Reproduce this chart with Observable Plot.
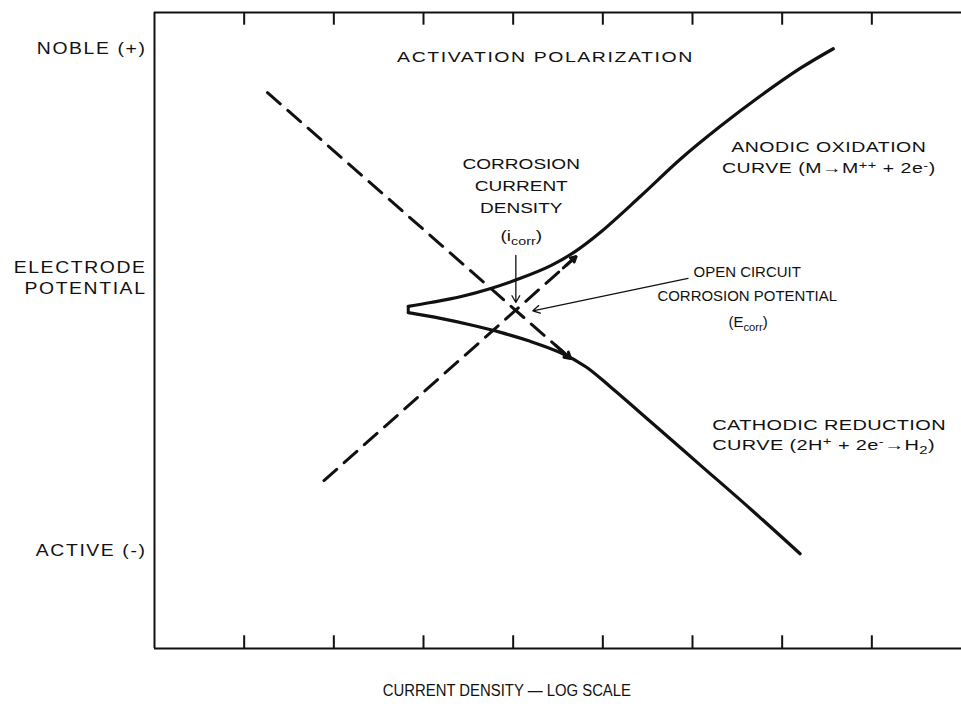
<!DOCTYPE html>
<html>
<head>
<meta charset="utf-8">
<script src="https://cdn.jsdelivr.net/npm/d3@7"></script>
<script src="https://cdn.jsdelivr.net/npm/@observablehq/plot@0.6"></script>
<style>
  body { margin: 0; background: #fff; }
  svg text { font-family: "Liberation Sans", Arial, Helvetica, sans-serif; }
</style>
</head>
<body>
<div id="chart"></div>
<script>
// Activation polarization diagram: electrode potential (E) against log current density.
// Horizontal unit = one decade of current density; vertical unit = arbitrary potential step.

const xTicks = [1, 2, 3, 4, 5, 6, 7, 8];
const xTitle = "CURRENT DENSITY — LOG SCALE";
const xTitlePos = 3.93;

const yLabelText = ["NOBLE (+)", "ELECTRODE\nPOTENTIAL", "ACTIVE (-)"];
const yLabelE = [9.45, 5.85, 1.56];

// Anodic oxidation curve M → M++ + 2e
const anodicLogI = [2.83, 3.08, 3.41, 3.75, 4.08, 4.42, 4.69, 4.97, 5.42, 5.87, 6.31, 6.76, 7.20, 7.57];
const anodicE    = [5.38, 5.44, 5.53, 5.66, 5.82, 6.02, 6.24, 6.54, 7.11, 7.70, 8.21, 8.69, 9.12, 9.43];

// Cathodic reduction curve 2H+ + 2e → H2
const cathodicLogI = [2.83, 3.19, 3.52, 3.86, 4.19, 4.53, 4.81, 5.08, 5.53, 6.09, 6.65, 7.20];
const cathodicE    = [5.28, 5.19, 5.09, 4.97, 4.83, 4.65, 4.43, 4.12, 3.57, 2.88, 2.19, 1.49];

// Tafel extrapolations (dashed), start and end
const anodicTafelLogI = [1.89, 4.70];
const anodicTafelE    = [2.64, 6.16];
const cathodicTafelLogI = [1.26, 4.64];
const cathodicTafelE    = [8.74, 4.56];

// Pointers to i_corr and E_corr (tail, head)
const icorrPointerLogI = [4.03, 4.03];
const icorrPointerE    = [6.18, 5.44];
const ecorrPointerLogI = [5.95, 4.22];
const ecorrPointerE    = [5.82, 5.31];

const labelText = [
  "ACTIVATION POLARIZATION",
  "CORROSION\nCURRENT\nDENSITY",
  "(i_{corr})",
  "ANODIC OXIDATION\nCURVE (M→M^{++} + 2e^{-})",
  "OPEN CIRCUIT\nCORROSION POTENTIAL",
  "(E_{corr})",
  "CATHODIC REDUCTION\nCURVE (2H^{+} + 2e^{-}→H_{2})"
];
const labelLogI = [4.36, 4.09, 4.09, 7.52, 6.61, 6.62, 6.22];
const labelE    = [9.29, 7.30, 6.49, 7.74, 5.77, 5.13, 3.38];

const pts = (xs, ys) => xs.map((x, i) => ({x, y: ys[i]}));
const anodic = pts(anodicLogI, anodicE);
const cathodic = pts(cathodicLogI, cathodicE);
const anodicTafel = pts(anodicTafelLogI, anodicTafelE);
const cathodicTafel = pts(cathodicTafelLogI, cathodicTafelE);
const labels = labelText.map((text, i) => ({text, x: labelLogI[i], y: labelE[i]}));
const yLabels = yLabelText.map((text, i) => ({text, y: yLabelE[i]}));

// short solid arrow at the far end of a dashed extrapolation
const endArrow = (line, frac) => {
  const [a, b] = line;
  return [{x1: a.x + (b.x - a.x) * frac, y1: a.y + (b.y - a.y) * frac, x2: b.x, y2: b.y}];
};

const tickLen = 0.2;
const ink = "#111";

const label = (i, opts) => Plot.text([labels[i]], {
  x: "x", y: "y", text: "text", fill: ink, ...opts
});

const chart = Plot.plot({
  width: 961,
  height: 711,
  marginLeft: 154,
  marginRight: 0,
  marginTop: 12,
  marginBottom: 63,
  x: {domain: [0, 9], axis: null},
  y: {domain: [0, 10], axis: null},
  style: {background: "#fff", color: ink},
  marks: [
    // frame: left edge, bottom and top
    Plot.ruleX([0], {y1: 0, y2: 10, stroke: ink, strokeWidth: 2}),
    Plot.ruleY([0, 10], {x1: 0, x2: 9, stroke: ink, strokeWidth: 2}),
    // inward ticks on top and bottom edges
    Plot.ruleX(xTicks, {y1: 10, y2: 10 - tickLen, stroke: ink, strokeWidth: 2}),
    Plot.ruleX(xTicks, {y1: 0, y2: tickLen, stroke: ink, strokeWidth: 2}),

    // dashed Tafel extrapolations
    Plot.line(cathodicTafel, {x: "x", y: "y", stroke: ink, strokeWidth: 3, strokeDasharray: "17,10"}),
    Plot.line(anodicTafel, {x: "x", y: "y", stroke: ink, strokeWidth: 3, strokeDasharray: "17,10"}),
    Plot.arrow(endArrow(cathodicTafel, 0.95), {x1: "x1", y1: "y1", x2: "x2", y2: "y2", stroke: ink, strokeWidth: 3, headLength: 9}),
    Plot.arrow(endArrow(anodicTafel, 0.95), {x1: "x1", y1: "y1", x2: "x2", y2: "y2", stroke: ink, strokeWidth: 3, headLength: 9}),

    // polarization curves
    Plot.line(anodic, {x: "x", y: "y", curve: "catmull-rom", stroke: ink, strokeWidth: 3.2}),
    Plot.line(cathodic, {x: "x", y: "y", curve: "catmull-rom", stroke: ink, strokeWidth: 3.2}),
    Plot.ruleX([anodic[0]], {x: "x", y1: cathodic[0].y, y2: anodic[0].y, stroke: ink, strokeWidth: 3}),

    // pointers
    Plot.arrow([{x1: icorrPointerLogI[0], y1: icorrPointerE[0], x2: icorrPointerLogI[1], y2: icorrPointerE[1]}],
      {x1: "x1", y1: "y1", x2: "x2", y2: "y2", stroke: ink, strokeWidth: 1.3, headLength: 9}),
    Plot.arrow([{x1: ecorrPointerLogI[0], y1: ecorrPointerE[0], x2: ecorrPointerLogI[1], y2: ecorrPointerE[1]}],
      {x1: "x1", y1: "y1", x2: "x2", y2: "y2", stroke: ink, strokeWidth: 1.3, headLength: 9}),

    // y-axis labels
    Plot.text(yLabels, {x: 0, y: "y", text: "text", dx: -8, textAnchor: "end", fontSize: 17,
      lineHeight: 1.25, fill: ink}),

    // annotations
    label(0, {fontSize: 15}),
    label(1, {fontSize: 15, lineHeight: 1.47}),
    label(2, {fontSize: 15}),
    label(3, {fontSize: 15, lineHeight: 1.4}),
    label(4, {fontSize: 14, lineHeight: 1.7}),
    label(5, {fontSize: 14}),
    label(6, {fontSize: 15, lineHeight: 1.3, textAnchor: "start"}),

    // x-axis title
    Plot.text([{text: xTitle, x: xTitlePos, y: 0}], {x: "x", y: "y", text: "text", dy: 42, fontSize: 17, fill: ink})
  ]
});

// extended lettering: horizontal stretch (about the text anchor) and letter spacing per label
const wide = {sx: 1.3, ls: 1.2}, mid = {sx: 1.27, ls: 0}, tight = {sx: 1.07, ls: 0};
const lettering = new Map([
  ...yLabelText.map(t => [t, {sx: 1.14, ls: 1.4}]),
  [labelText[0], wide],
  [labelText[1], mid],
  [labelText[2], mid],
  [labelText[3], {sx: 1.3, ls: 0.4}],
  [labelText[4], tight],
  [labelText[5], tight],
  [labelText[6], {sx: 1.33, ls: 0.3}],
  [xTitle, {sx: 0.875, ls: 0}]
].map(([t, v]) => [t.replace(/\n/g, ""), v]));

chart.querySelectorAll("text").forEach(t => {
  const style = lettering.get(t.textContent);
  if (!style) return;
  const tr = t.getAttribute("transform") || "";
  t.setAttribute("transform", `${tr} scale(${style.sx},1)`);
  if (style.ls) t.style.letterSpacing = `${style.ls}px`;
});

// turn _{...} and ^{...} into subscript / superscript tspans
const SVGNS = "http://www.w3.org/2000/svg";
chart.querySelectorAll("text, tspan").forEach(node => {
  if (node.children.length) return;
  const s = node.textContent;
  if (!/[_^]\{/.test(s)) return;
  node.textContent = "";
  const re = /([_^])\{([^}]*)\}/g;
  let last = 0, m;
  while ((m = re.exec(s))) {
    if (m.index > last) node.appendChild(document.createTextNode(s.slice(last, m.index)));
    const t = document.createElementNS(SVGNS, "tspan");
    t.setAttribute("baseline-shift", m[1] === "_" ? "-35%" : "40%");
    t.setAttribute("font-size", "75%");
    t.textContent = m[2];
    node.appendChild(t);
    last = re.lastIndex;
  }
  if (last < s.length) node.appendChild(document.createTextNode(s.slice(last)));
});

document.getElementById("chart").appendChild(chart);
</script>
</body>
</html>
